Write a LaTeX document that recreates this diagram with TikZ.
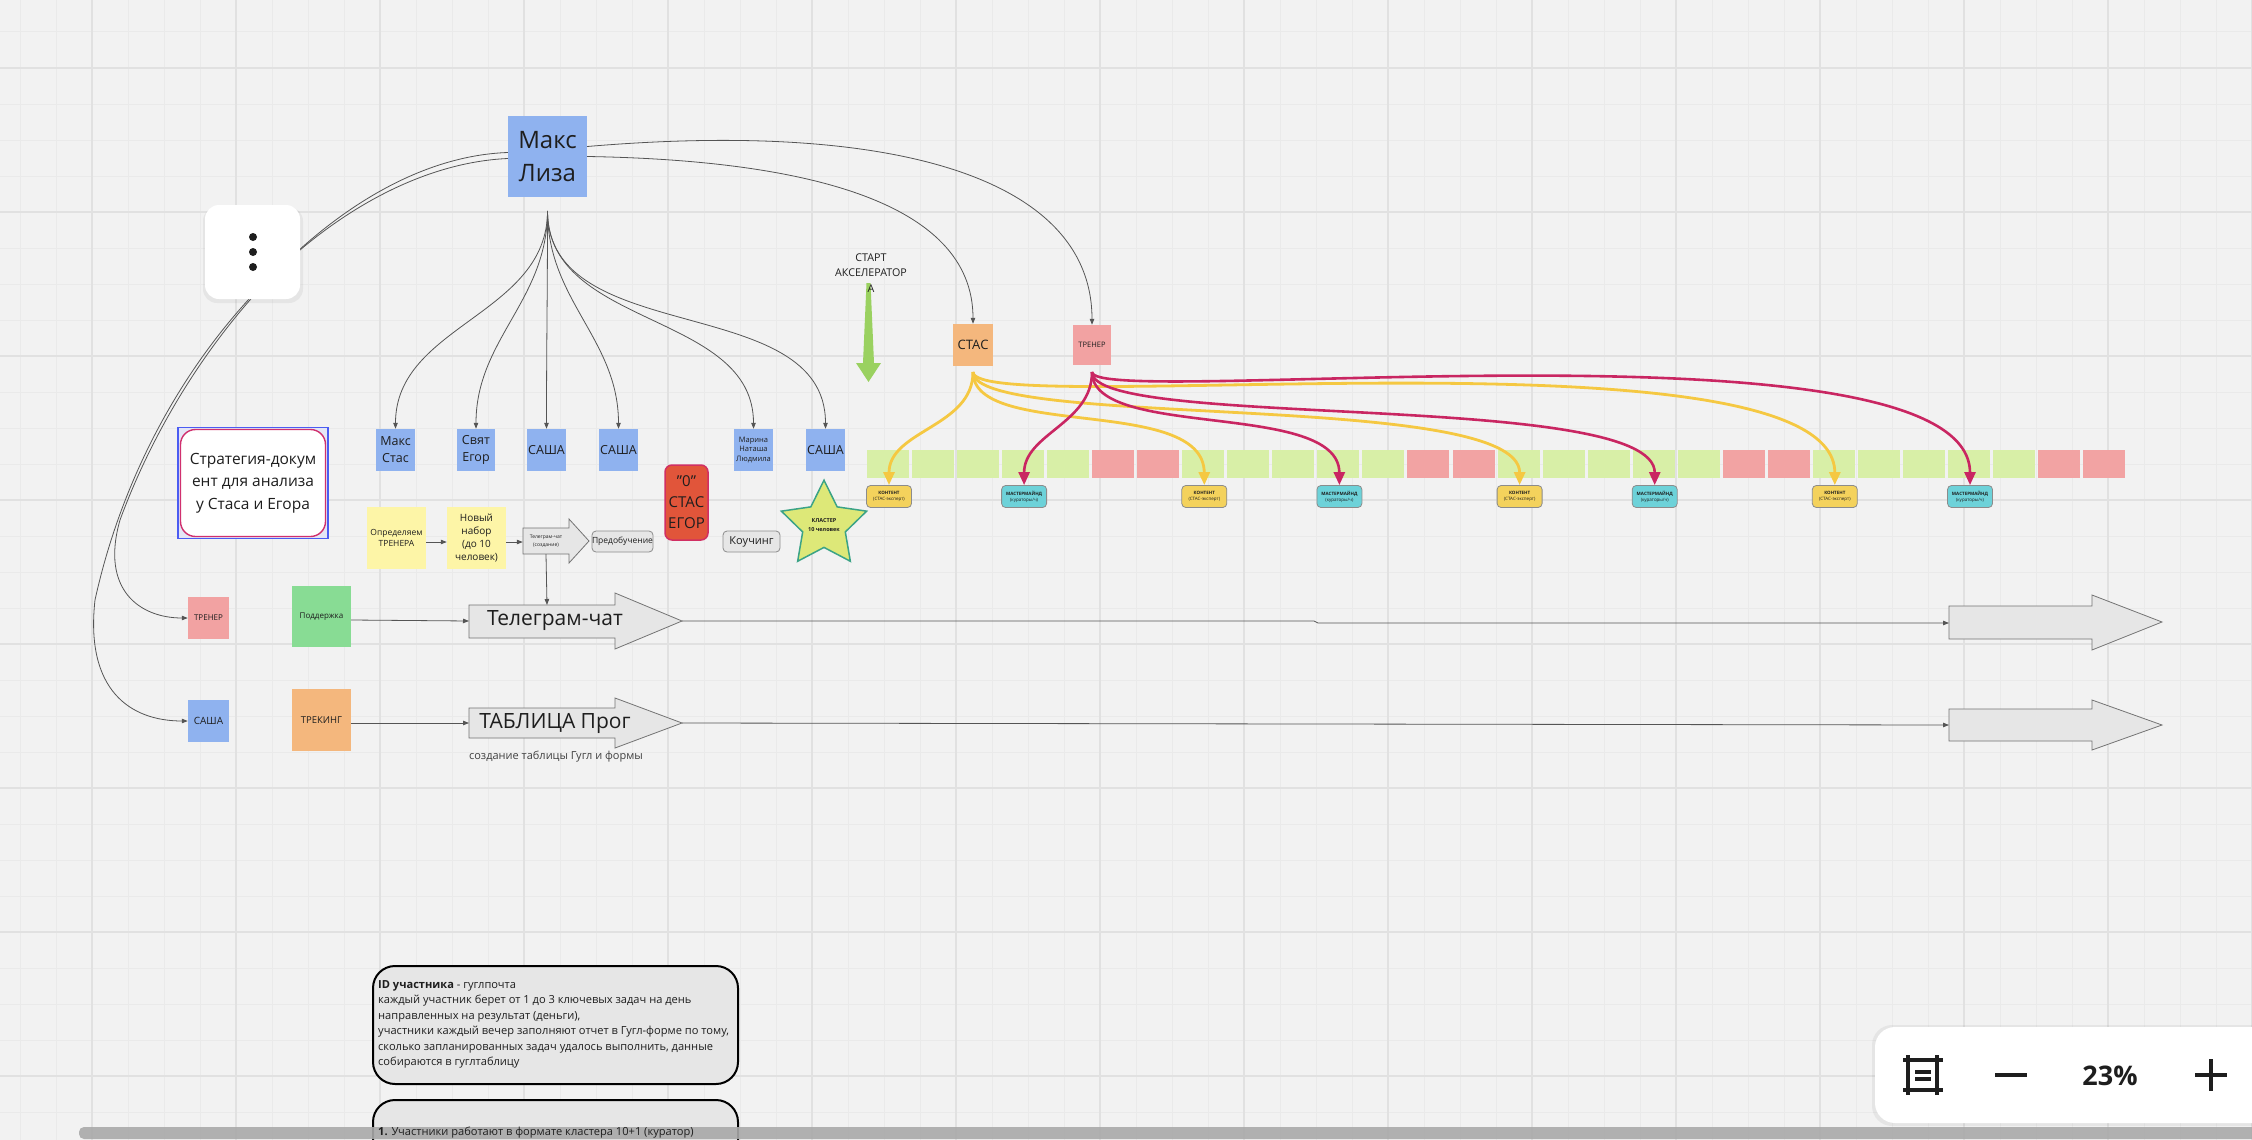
\documentclass[tikz,border=0pt]{standalone}
\usepackage{fontspec}
\setmainfont{Open Sans}
\usetikzlibrary{arrows.meta,shapes.geometric,calc}
\definecolor{bg}{HTML}{F2F2F2}
\definecolor{gridmin}{HTML}{EAEAEA}
\definecolor{gridmaj}{HTML}{E1E1E1}
\definecolor{stblue}{HTML}{8FB2EF}
\definecolor{stpink}{HTML}{F2A2A2}
\definecolor{storange}{HTML}{F4B77D}
\definecolor{styellow}{HTML}{FDF5A7}
\definecolor{stgreen}{HTML}{88DC94}
\definecolor{tlgreen}{HTML}{D8EFA7}
\definecolor{tlpink}{HTML}{F2A3A3}
\definecolor{kyellow}{HTML}{F4D25C}
\definecolor{kcyan}{HTML}{6DD2D9}
\definecolor{curvey}{HTML}{F5C842}
\definecolor{curver}{HTML}{C92662}
\definecolor{redbox}{HTML}{E1553A}
\definecolor{redborder}{HTML}{D12F63}
\definecolor{starfill}{HTML}{DDE878}
\definecolor{starline}{HTML}{3BA386}
\definecolor{arrowgrey}{HTML}{E6E6E6}
\definecolor{selblue}{HTML}{4B5CF2}
\definecolor{selfill}{HTML}{E4E6F6}
\definecolor{pinkline}{HTML}{D0306E}
\definecolor{startgreen}{HTML}{9AD160}
\definecolor{txt}{HTML}{1E1E1E}
\definecolor{connc}{HTML}{555555}
\definecolor{boxgrey}{HTML}{E6E6E6}
\definecolor{scrollc}{HTML}{A9A9A9}
\newcommand{\fsz}[2]{\fontsize{#1pt}{#2pt}\selectfont}
\tikzset{
  sticky/.style={rectangle, inner sep=1pt, align=center, text=txt},
  conn/.style={draw=connc, line width=0.8pt, -{Triangle[length=6pt,width=4.5pt]}},
  ycurve/.style={draw=curvey, line width=2.8pt, -{Triangle[length=13pt,width=11pt]}},
  rcurve/.style={draw=curver, line width=2.6pt, -{Triangle[length=13pt,width=11pt]}},
  kbox/.style={rectangle, rounded corners=4pt, draw=black!45, line width=0.8pt, fill=kyellow, minimum width=45pt, minimum height=22pt, inner sep=0pt, align=center, font=\fsz{4.5}{6}, text=txt},
  mbox/.style={kbox, fill=kcyan},
  softbox/.style={rectangle, rounded corners=4pt, draw=black!45, line width=0.8pt, fill=boxgrey, inner sep=0pt, align=center, text=txt},
  bigarrow/.style={fill=arrowgrey, draw=black!55, line width=0.8pt},
}
\begin{document}
\begin{tikzpicture}[x=1pt,y=-1pt]
\useasboundingbox (0,0) rectangle (2252,1140);
\clip (0,0) rectangle (2252,1140);
\fill[bg] (0,0) rectangle (2252,1140);
% grid
\foreach \x in {20,56,...,2252} {\draw[gridmin,line width=1pt] (\x,0) -- (\x,1140);}
\foreach \y in {32,68,...,1140} {\draw[gridmin,line width=1pt] (0,\y) -- (2252,\y);}
\foreach \x in {92,236,...,2252} {\draw[gridmaj,line width=2.4pt] (\x,0) -- (\x,1140);}
\foreach \y in {68,212,...,1140} {\draw[gridmaj,line width=2.4pt] (0,\y) -- (2252,\y);}

% top node
\node[sticky, fill=stblue, minimum width=79pt, minimum height=81pt, font=\fsz{24}{33}] (ml) at (547.5,156.5) {Макс\\Лиза};
\coordinate (mlb) at (547.5,211);

% left curves from top node (behind the menu)
\node[sticky, fill=stpink, minimum width=41pt, minimum height=42pt, font=\fsz{8}{10}] (trL) at (208.5,618) {ТРЕНЕР};
\node[sticky, fill=stblue, minimum width=41pt, minimum height=42pt, font=\fsz{10}{12}] (saL) at (208.5,721) {САША};
\draw[conn] ([yshift=4pt]ml.west) .. controls (350,158) and (190,330) .. (120,520) .. controls (100,590) and (140,618) .. (trL.west);
\draw[conn] ([yshift=-2pt]ml.west) .. controls (340,166) and (150,350) .. (95,600) .. controls (85,690) and (130,721) .. (saL.west);

% three-dot menu
\fill[black, opacity=0.05, rounded corners=14pt] (203,207) rectangle (303,303);
\node[rectangle, rounded corners=14pt, fill=white, minimum width=95pt, minimum height=94pt] (menu) at (252.5,252) {};
\foreach \yy in {237,252,267} {\fill[txt] (253,\yy) circle (4pt);}

% row of blue stickies
\node[sticky, fill=stblue, minimum width=39pt, minimum height=42pt, font=\fsz{12.5}{17}] (ms) at (395.5,450) {Макс\\Стас};
\node[sticky, fill=stblue, minimum width=38pt, minimum height=42pt, font=\fsz{12.5}{17}] (se) at (476,450) {Свят\\Егор};
\node[sticky, fill=stblue, minimum width=39pt, minimum height=42pt, font=\fsz{12.5}{15}] (s1) at (546.5,450) {САША};
\node[sticky, fill=stblue, minimum width=39pt, minimum height=42pt, font=\fsz{12.5}{15}] (s2) at (618.5,450) {САША};
\node[sticky, fill=stblue, minimum width=39pt, minimum height=42pt, font=\fsz{7.5}{9.7}] (mnl) at (753.5,450) {Марина\\Наташа\\Людмила};
\node[sticky, fill=stblue, minimum width=39pt, minimum height=42pt, font=\fsz{12.5}{15}] (s3) at (825.5,450) {САША};
\foreach \n in {ms,se,s1,s2,mnl,s3} {\draw[conn] (mlb) to[out=-90,in=90] (\n.north);}

% strategy
\node[rectangle, draw=selblue, fill=selfill, line width=1.6pt, minimum width=150pt, minimum height=111pt, inner sep=0pt] (stratsel) at (253,483) {};
\node[rectangle, draw=pinkline, fill=white, rounded corners=15pt, line width=1.4pt, minimum width=145pt, minimum height=107pt, align=center, font=\fsz{15.5}{22.5}, text=txt] (strat) at (253,483) {Стратегия-докум\\ент для анализа\\у Стаса и Егора};

% process row
\node[sticky, fill=styellow, minimum width=59pt, minimum height=62pt, font=\fsz{8.5}{11.5}] (opt) at (396.5,538) {Определяем\\ТРЕНЕРА};
\node[sticky, fill=styellow, minimum width=59pt, minimum height=62pt, font=\fsz{10}{13}] (nn) at (476.5,538) {Новый\\набор\\(до 10\\человек)};
\fill[bigarrow] (523,528) -- (569,528) -- (569,519) -- (589,541) -- (569,563) -- (569,554) -- (523,554) -- cycle;
\node[inner sep=0pt, minimum width=46pt, minimum height=26pt, align=center, font=\fsz{5}{7.5}, text=txt] (tgc) at (546,541) {Телеграм-чат\\(создание)};
\draw[conn] (opt.east |- 0,542) -- (nn.west |- 0,542);
\draw[conn] (nn.east |- 0,542) -- (tgc.west |- 0,542);
\node[softbox, minimum width=61pt, minimum height=21pt, font=\fsz{8.5}{10}] (pre) at (622.5,541.5) {Предобучение};
\node[rectangle, rounded corners=7pt, fill=redbox, draw=redborder, line width=1.5pt, minimum width=43pt, minimum height=75pt, inner sep=0pt, align=center, font=\fsz{15}{21}, text=txt] (zero) at (686.5,502.5) {"0"\\СТАС\\ЕГОР};
\node[softbox, minimum width=57pt, minimum height=21pt, font=\fsz{11}{12}] (coach) at (751.5,541.5) {Коучинг};
\node[star, star points=5, star point ratio=2.0, minimum size=84pt, inner sep=0pt, fill=starfill, draw=starline, line width=1.5pt, align=center, font=\fsz{5.5}{9}, text=txt] (star) at (824,525) {\bfseries КЛАСТЕР\\\bfseries 10 человек};

% left column
\node[sticky, fill=stgreen, minimum width=59pt, minimum height=61pt, font=\fsz{8}{10}] (sup) at (321.5,616.5) {Поддержка};
\node[sticky, fill=storange, minimum width=59pt, minimum height=62pt, font=\fsz{9.5}{11}] (trk) at (321.5,720) {ТРЕКИНГ};

% big arrows
\fill[bigarrow] (469,605) -- (615,605) -- (615,593) -- (682,621) -- (615,649) -- (615,638) -- (469,638) -- cycle;
\node[inner sep=0pt, font=\fsz{21}{24}, text=txt] (tgtext) at (555,621) {Телеграм-чат};
\coordinate (tgL) at (469,621);
\coordinate (tgT) at (547,605);
\coordinate (tgR) at (682,621);
\fill[bigarrow] (469,708) -- (615,708) -- (615,698) -- (682,723) -- (615,748) -- (615,738) -- (469,738) -- cycle;
\node[inner sep=0pt, font=\fsz{21}{24}, text=txt] (tabtext) at (555,723) {ТАБЛИЦА Прог};
\coordinate (tabL) at (469,723);
\coordinate (tabR) at (682,723);
\node[inner sep=0pt, font=\fsz{11}{13}, text=txt!85] (tabnote) at (556,757) {создание таблицы Гугл и формы};

\fill[bigarrow] (1949,606) -- (2092,606) -- (2092,595) -- (2162,622) -- (2092,650) -- (2092,639) -- (1949,639) -- cycle;
\coordinate (tg2L) at (1949,623);
\fill[bigarrow] (1949,709) -- (2092,709) -- (2092,700) -- (2162,725) -- (2092,750) -- (2092,741) -- (1949,741) -- cycle;
\coordinate (tab2L) at (1949,725);

\draw[conn] (sup.east |- 0,620) -- (tgL);
\draw[conn] (trk.east |- 0,723) -- (tabL);
\draw[conn] (tgc.south) -- (tgT);
\draw[conn] (tgR) -- (1314,621) -- (1318,623) -- (tg2L);
\draw[conn] (tabR) -- (tab2L);

% start arrow
\fill[startgreen] (866.5,283) -- (870.5,283) -- (874,363) -- (881,363) -- (868.5,382) -- (856,363) -- (863,363) -- cycle;
\node[align=center, inner sep=0pt, font=\fsz{10.7}{15.5}, text=txt] (starttxt) at (871,273) {СТАРТ\\АКСЕЛЕРАТОР\\А};

% timeline
\foreach \i in {0,...,27} {
  \pgfmathtruncatemacro{\m}{mod(\i,7)}
  \pgfmathsetmacro{\xx}{867+\i*45.04}
  \ifnum\m>4 \fill[tlpink] (\xx,450) rectangle ++(42,28); \else \fill[tlgreen] (\xx,450) rectangle ++(42,28); \fi
}
\node[kbox] (k1) at (889,496.5) {\bfseries КОНТЕНТ\\(СТАС-эксперт)};
\node[mbox] (mm1) at (1024.1,496.5) {\bfseries МАСТЕРМАЙНД\\(кураторы/ч)};
\node[kbox] (k2) at (1204.3,496.5) {\bfseries КОНТЕНТ\\(СТАС-эксперт)};
\node[mbox] (mm2) at (1339.4,496.5) {\bfseries МАСТЕРМАЙНД\\(кураторы/ч)};
\node[kbox] (k3) at (1519.6,496.5) {\bfseries КОНТЕНТ\\(СТАС-эксперт)};
\node[mbox] (mm3) at (1654.7,496.5) {\bfseries МАСТЕРМАЙНД\\(кураторы/ч)};
\node[kbox] (k4) at (1834.8,496.5) {\bfseries КОНТЕНТ\\(СТАС-эксперт)};
\node[mbox] (mm4) at (1970,496.5) {\bfseries МАСТЕРМАЙНД\\(кураторы/ч)};

% СТАС and ТРЕНЕР
\node[sticky, fill=storange, minimum width=40pt, minimum height=42pt, font=\fsz{13}{15}] (stas) at (973,345) {СТАС};
\node[sticky, fill=stpink, minimum width=38pt, minimum height=40pt, font=\fsz{7.5}{9}] (trT) at (1092,345) {ТРЕНЕР};
\coordinate (stB) at (973,372);
\coordinate (trB) at (1092,372);
\draw[conn] (ml.east) .. controls (800,160) and (973,200) .. (stas.north);
\draw[conn] ([yshift=10pt]ml.east) .. controls (900,120) and (1092,180) .. (trT.north);

\draw[ycurve] (stB) to[out=-90,in=90] (k1.north);
\draw[ycurve] (stB) .. controls (973,440) and (1204,395) .. (k2.north);
\draw[ycurve] (stB) .. controls (973,430) and (1520,390) .. (k3.north);
\draw[ycurve] (stB) .. controls (973,420) and (1835,320) .. (k4.north);
\draw[rcurve] (trB) to[out=-90,in=90] (mm1.north);
\draw[rcurve] (trB) .. controls (1092,440) and (1339,400) .. (mm2.north);
\draw[rcurve] (trB) .. controls (1092,430) and (1655,390) .. (mm3.north);
\draw[rcurve] (trB) .. controls (1092,410) and (1970,310) .. (mm4.north);

% bottom notes
\draw[fill=boxgrey, draw=black, line width=2pt, rounded corners=22pt] (373,966) rectangle (738,1084);
\node[anchor=north west, inner sep=0pt, align=left, font=\fsz{11.1}{15.5}, text=txt] (note1) at (378,980) {\textbf{ID участника} - гуглпочта\\каждый участник берет от 1 до 3 ключевых задач на день\\направленных на результат (деньги),\\участники каждый вечер заполняют отчет в Гугл-форме по тому,\\сколько запланированных задач удалось выполнить, данные\\собираются в гуглтаблицу};
\draw[fill=boxgrey, draw=black, line width=2pt, rounded corners=22pt] (373,1100) rectangle (738,1220);
\fill[scrollc, opacity=0.9, rounded corners=5pt] (79,1127) rectangle (2270,1139);
\node[anchor=west, inner sep=0pt, font=\fsz{11.1}{14}, text=txt] (note2) at (378,1133) {\textbf{1.} Участники работают в формате кластера 10+1 (куратор)};

% zoom panel
\fill[black, opacity=0.05, rounded corners=20pt] (1872,1025) rectangle (2290,1126);
\fill[white, rounded corners=20pt] (1875,1027) rectangle (2290,1123);
\draw[txt, line width=4pt] (1903,1060) -- (1943,1060) (1903,1090) -- (1943,1090) (1908,1055) -- (1908,1095) (1937,1055) -- (1937,1095) (1915,1072) -- (1931,1072) (1915,1079) -- (1931,1079);
\draw[txt, line width=4pt] (1995,1075) -- (2027,1075);
\node[inner sep=0pt, font=\fsz{27}{30}\bfseries, text=txt] (zoomtxt) at (2110,1076) {23\%};
\draw[txt, line width=4pt] (2195,1075) -- (2227,1075) (2211,1059) -- (2211,1091);
\end{tikzpicture}
\end{document}
